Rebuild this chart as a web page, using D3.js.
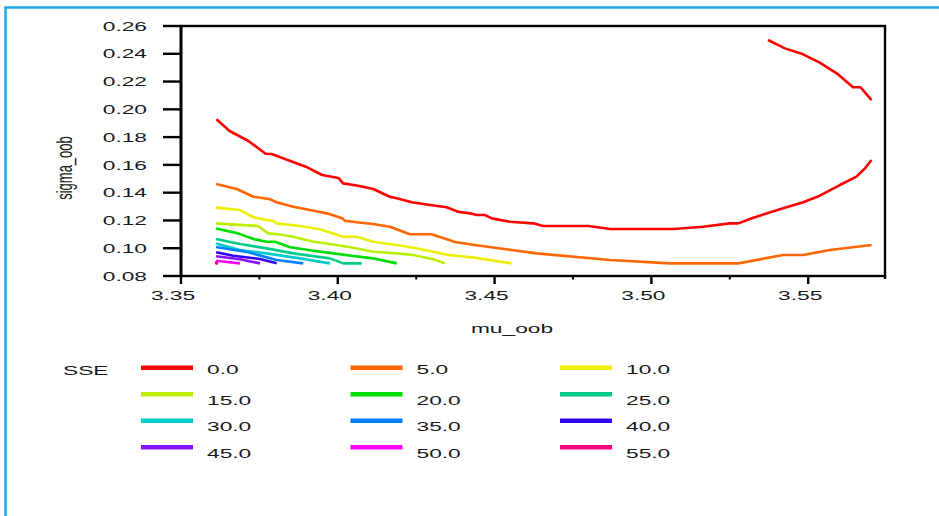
<!DOCTYPE html>
<html><head><meta charset="utf-8">
<script src="https://cdn.jsdelivr.net/npm/d3@7"></script>
<style>
body{margin:0;background:#fff;overflow:hidden}
text{font-family:"Liberation Sans",Arial,Helvetica,sans-serif;fill:#1a1a1a}
</style>
</head><body>
<svg id="chart" width="939" height="516"></svg>
<script>
// ---- data ----
const sseLevels = ["0.0","5.0","10.0","15.0","20.0","25.0","30.0","35.0","40.0","45.0","50.0","55.0"];
const sseColors = ["#ff0000","#ff6600","#eeee00","#bbee00","#00dd00","#00cc88","#00cccc","#0080ff","#3300ff","#8811ff","#ff00ff","#ff0080"];
const xTickValues = [3.35, 3.40, 3.45, 3.50, 3.55];
const xMinorTickValues = [3.375, 3.425, 3.475, 3.525];
const yTickValues = [0.08, 0.10, 0.12, 0.14, 0.16, 0.18, 0.20, 0.22, 0.24, 0.26];
const xLabel = "mu_oob";
const yLabel = "sigma_oob";
const legendTitle = "SSE";

const sse0Lower = [[3.3613,0.1928],[3.3655,0.1844],[3.3715,0.1772],[3.3770,0.1680],[3.3789,0.1678],[3.3898,0.1587],[3.3950,0.1527],[3.4002,0.1506],[3.4017,0.1467],[3.4065,0.1450],[3.4113,0.1426],[3.4166,0.1371],[3.4188,0.1359],[3.4236,0.1331],[3.4294,0.1311],[3.4347,0.1295],[3.4384,0.1263],[3.4421,0.1251],[3.4443,0.1239],[3.4469,0.1239],[3.4491,0.1215],[3.4549,0.1191],[3.4623,0.1179],[3.4655,0.1160],[3.4799,0.1160],[3.4868,0.1138],[3.5070,0.1138],[3.5165,0.1155],[3.5250,0.1179],[3.5277,0.1179],[3.5325,0.1220],[3.5420,0.1287],[3.5484,0.1331],[3.5537,0.1378],[3.5601,0.1455],[3.5654,0.1515],[3.5681,0.1575],[3.5702,0.1635]];
const sse0Upper = [[3.5372,0.2499],[3.5426,0.2439],[3.5484,0.2396],[3.5537,0.2336],[3.5591,0.2259],[3.5643,0.2159],[3.5667,0.2159],[3.5702,0.2067]];
const sse5 = [[3.3612,0.1462],[3.3678,0.1426],[3.3731,0.1371],[3.3784,0.1352],[3.3805,0.1331],[3.3858,0.1299],[3.3911,0.1275],[3.3965,0.1251],[3.4014,0.1215],[3.4023,0.1198],[3.4060,0.1187],[3.4113,0.1174],[3.4166,0.1155],[3.4230,0.1101],[3.4299,0.1101],[3.4374,0.1045],[3.4437,0.1023],[3.4501,0.1004],[3.4634,0.0963],[3.4868,0.0915],[3.5059,0.0891],[3.5277,0.0891],[3.5420,0.0951],[3.5484,0.0951],[3.5569,0.0987],[3.5702,0.1023]];
const sse10 = [[3.3612,0.1292],[3.3688,0.1275],[3.3731,0.1223],[3.3773,0.1203],[3.3794,0.1196],[3.3805,0.1179],[3.3879,0.1160],[3.3943,0.1136],[3.4017,0.1083],[3.4060,0.1083],[3.4113,0.1047],[3.4188,0.1023],[3.4241,0.1004],[3.4304,0.0975],[3.4352,0.0951],[3.4437,0.0932],[3.4554,0.0891]];
const sse15 = [[3.3612,0.1179],[3.3746,0.1160],[3.3778,0.1107],[3.3810,0.1100],[3.3858,0.1083],[3.3922,0.1047],[3.3975,0.1030],[3.4049,0.1004],[3.4113,0.0975],[3.4188,0.0963],[3.4241,0.0951],[3.4304,0.0920],[3.4342,0.0891]];
const sse20 = [[3.3612,0.1142],[3.3682,0.1107],[3.3731,0.1066],[3.3773,0.1047],[3.3800,0.1047],[3.3848,0.1007],[3.3922,0.0982],[3.3986,0.0963],[3.4049,0.0944],[3.4113,0.0927],[3.4188,0.0891]];
const sse25 = [[3.3612,0.1066],[3.3688,0.1030],[3.3773,0.0999],[3.3858,0.0963],[3.3975,0.0927],[3.4017,0.0891],[3.4076,0.0891]];
const sse30 = [[3.3612,0.1034],[3.3688,0.0987],[3.3773,0.0963],[3.3879,0.0927],[3.3975,0.0891]];
const sse35 = [[3.3612,0.1009],[3.3715,0.0971],[3.3805,0.0915],[3.3890,0.0891]];
const sse40 = [[3.3612,0.0971],[3.3667,0.0946],[3.3752,0.0922],[3.3805,0.0891]];
const sse45 = [[3.3612,0.0942],[3.3688,0.0920],[3.3752,0.0891]];
const sse50 = [[3.3612,0.0910],[3.3688,0.0891]];
const sse55 = [[3.3612,0.0907],[3.3612,0.0891],[3.3618,0.0891]];

const contourSegments = [
  [sse0Lower, sse0Upper], [sse5], [sse10], [sse15], [sse20], [sse25],
  [sse30], [sse35], [sse40], [sse45], [sse50], [sse55]
];

// ---- drawing ----
const svg = d3.select("#chart");
const SX = 1.75;           // horizontal text stretch seen in the reference
const FS = 13;

// outer frame (light blue)
svg.append("rect").attr("x",5.5).attr("y",7.5).attr("width",1200).attr("height",1200)
  .attr("fill","none").attr("stroke","#1ba9e6").attr("stroke-width",2.5);

const x = d3.scaleLinear().domain([3.35, 3.5745]).range([181, 885]);
const y = d3.scaleLinear().domain([0.08, 0.26]).range([276, 26]);

// contour lines
const line = d3.line().x(d => x(d[0])).y(d => y(d[1]));
const gLines = svg.append("g");
contourSegments.forEach((segs, i) => {
  segs.forEach(seg => {
    gLines.append("path").attr("d", line(seg)).attr("fill","none")
      .attr("stroke", sseColors[i]).attr("stroke-width",2.6)
      .attr("stroke-linejoin","round").attr("stroke-linecap","butt");
  });
});

// plot box
const [x0, x1] = x.range();
const [yb, yt] = y.range();
svg.append("rect").attr("x",x0).attr("y",yt).attr("width",x1-x0).attr("height",yb-yt)
  .attr("fill","none").attr("stroke","#000").attr("stroke-width",2.4);
svg.append("line").attr("x1",x0).attr("x2",x0).attr("y1",yt).attr("y2",yb+1)
  .attr("stroke","#000").attr("stroke-width",2.8);
svg.append("line").attr("x1",x1).attr("x2",x1).attr("y1",yb).attr("y2",yb+3)
  .attr("stroke","#000").attr("stroke-width",2.4);

// y axis ticks + labels
const gy = svg.append("g");
yTickValues.forEach(v => {
  gy.append("line").attr("x1",x0-18).attr("x2",x0).attr("y1",y(v)).attr("y2",y(v))
    .attr("stroke","#000").attr("stroke-width",2.4);
  gy.append("text").attr("transform",`translate(${x0-34},${y(v)}) scale(${SX},1)`)
    .attr("text-anchor","end").attr("dy","0.36em").attr("font-size",FS)
    .text(d3.format(".2f")(v));
});

// x axis ticks + labels
const gx = svg.append("g");
xTickValues.forEach(v => {
  gx.append("line").attr("x1",x(v)).attr("x2",x(v)).attr("y1",yb).attr("y2",yb+8)
    .attr("stroke","#000").attr("stroke-width",2.4);
  gx.append("text").attr("transform",`translate(${x(v)-8},${yb+24}) scale(${SX},1)`)
    .attr("text-anchor","middle").attr("font-size",FS).text(d3.format(".2f")(v));
});
xMinorTickValues.forEach(v => {
  gx.append("line").attr("x1",x(v)).attr("x2",x(v)).attr("y1",yb).attr("y2",yb+3.5)
    .attr("stroke","#000").attr("stroke-width",2);
});

// axis titles
svg.append("text").attr("transform",`translate(512,333) scale(${SX},1)`)
  .attr("text-anchor","middle").attr("font-size",FS).text(xLabel);
svg.append("text").attr("transform",`translate(72,168) scale(${SX},1) rotate(-90)`)
  .attr("text-anchor","middle").attr("font-size",FS).text(yLabel);

// legend
const gl = svg.append("g");
gl.append("text").attr("transform",`translate(63,370) scale(${SX},1)`)
  .attr("dy","0.36em").attr("font-size",FS).text(legendTitle);
sseLevels.forEach((lab, i) => {
  const c = i % 3, r = Math.floor(i / 3);
  const lx = 141 + c * 209.5;
  const ly = 367.7 + r * 26.5;
  gl.append("line").attr("x1",lx).attr("x2",lx+52).attr("y1",ly).attr("y2",ly)
    .attr("stroke",sseColors[i]).attr("stroke-width",4.5);
  gl.append("text").attr("transform",`translate(${lx+66},${ly + (r===0 ? 2 : 6)}) scale(${SX},1)`)
    .attr("dy","0.36em").attr("font-size",FS).text(lab);
});
</script>
</body></html>
